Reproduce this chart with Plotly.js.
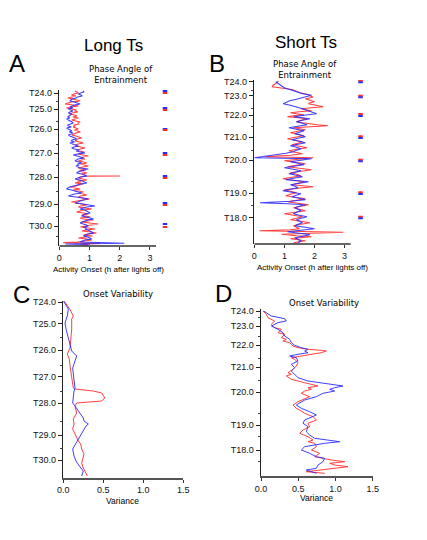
<!DOCTYPE html>
<html>
<head>
<meta charset="utf-8">
<script src="https://cdn.plot.ly/plotly-3.0.1.min.js"></script>
<style>html,body{margin:0;padding:0;background:#fff;}#chart{width:427px;height:540px;}</style>
</head>
<body>
<div id="chart"></div>
<script>
// ---------- Panel A: Long Ts, activity onset (h after lights off) ----------
const aRedDay   = [-2,-1,0,1,2,3,4,5,6,7,8,9,10,11,12,13,14,15,16,17,18,19,20,21,22,23,24,25,26,27,28,29,30,31,32,33,34,35,36,37,38,39,40,41,42,43,44,45,46,47,48,49,50,51,52,53,54,55,56,57,58,59,60,61,62,63,64,65,66,67,68,69,70,71,72,73,74,75,76,77,78,79,80,81,82,82.8,83,83.2,84,85,86,87,88,89,90,91,92,93,94,95,96,97,98,99,100,101,102,103,104,105,106,107,108,109,110,111,112,113,114,115,116,117,118,119,120,121,122,123,124,125,126,127,128,129,130,131,132,133,134,135,136,137,138,139,140,141,142,143,144,145,146,147,148,149,149.6,150.4,151,152];
const aRedOnset = [0.52,0.60,0.63,0.48,0.40,0.55,0.35,0.28,0.45,0.60,0.69,0.40,0.25,0.19,0.45,0.63,0.38,0.24,0.40,0.57,0.50,0.62,0.42,0.35,0.50,0.58,0.45,0.63,0.52,0.41,0.55,0.69,0.60,0.66,0.48,0.52,0.46,0.58,0.63,0.50,0.60,0.70,0.55,0.45,0.41,0.55,0.68,0.74,0.60,0.55,0.52,0.68,0.80,0.62,0.55,0.57,0.72,0.85,0.70,0.60,0.69,0.82,0.75,0.62,0.78,0.96,0.80,0.70,0.85,0.75,0.63,0.80,0.91,0.70,0.85,0.96,0.78,0.63,0.72,0.88,0.65,0.80,0.91,0.75,0.85,0.85,2.01,0.88,0.70,0.63,0.78,0.91,0.60,0.72,0.52,0.80,0.65,0.55,0.35,0.48,0.69,0.46,0.60,0.80,0.66,0.75,0.91,0.70,0.63,0.80,1.00,0.78,0.63,0.40,0.57,0.75,0.91,0.70,0.63,0.85,1.07,0.80,0.70,0.57,0.80,0.96,0.75,0.85,1.02,0.69,0.80,1.13,0.90,0.74,1.00,1.29,1.05,0.85,0.70,0.96,1.18,0.90,0.75,1.05,1.23,0.95,0.80,1.10,0.85,0.63,0.90,1.07,0.85,0.60,0.13,1.35,0.70,0.95];
const aBlueDay   = [-2,-1,0,1,2,3,4,5,6,7,8,9,10,11,12,13,14,15,16,17,18,19,20,21,22,23,24,25,26,27,28,29,30,31,32,33,34,35,36,37,38,39,40,41,42,43,44,45,46,47,48,49,50,51,52,53,54,55,56,57,58,59,60,61,62,63,64,65,66,67,68,69,70,71,72,73,74,75,76,77,78,79,80,81,82,83,84,85,86,87,88,89,90,91,92,93,94,95,96,97,98,99,100,101,102,103,104,105,106,107,108,109,110,111,112,113,114,115,116,117,118,119,120,121,122,123,124,125,126,127,128,129,130,131,132,133,134,135,136,137,138,139,140,141,142,143,144,145,146,147,148,149,150.3,151,152];
const aBlueOnset = [0.78,0.82,0.70,0.63,0.72,0.76,0.60,0.55,0.42,0.38,0.35,0.50,0.62,0.69,0.50,0.40,0.35,0.45,0.30,0.38,0.45,0.35,0.30,0.41,0.36,0.30,0.28,0.35,0.24,0.30,0.38,0.42,0.46,0.35,0.28,0.30,0.40,0.24,0.30,0.35,0.42,0.33,0.45,0.38,0.30,0.35,0.46,0.52,0.57,0.42,0.40,0.50,0.35,0.45,0.55,0.63,0.48,0.41,0.50,0.65,0.55,0.70,0.85,0.60,0.46,0.60,0.72,0.80,0.62,0.55,0.52,0.65,0.74,0.60,0.66,0.55,0.62,0.69,0.96,0.80,0.70,0.62,0.57,0.75,0.82,0.91,0.70,0.60,0.52,0.68,0.75,0.85,0.91,0.72,0.58,0.46,0.35,0.28,0.24,0.40,0.55,0.65,0.74,0.50,0.38,0.30,0.55,0.75,0.96,0.80,0.70,0.60,0.52,0.80,1.00,1.18,0.90,0.80,0.69,0.85,0.90,0.95,1.02,0.85,0.80,0.74,0.90,1.05,1.13,0.95,0.80,0.75,0.69,0.85,0.90,0.96,0.80,0.90,0.85,0.95,1.00,1.08,1.13,0.95,0.88,0.80,0.95,1.00,1.07,0.85,0.75,0.69,2.15,0.20,1.00];
const aTickDay  = [0,16,36,60,84,111,133];
const aTickText = ['T24.0','T25.0','T26.0','T27.0','T28.0','T29.0','T30.0'];
const aMinorDay = [8,28,51,72,98,123,143];
const aMeanRedDay  = [0,17,37,62,85,112,134];
const aMeanBlueDay = [-2,15,36,60,83,110,131];
const aMeanX = [3.5,3.5,3.5,3.5,3.5,3.5,3.5];

// ---------- Panel B: Short Ts, activity onset ----------
const bRedDay   = [-0.7,1,2,3.5,5,6.5,8,9.5,11,12.5,14,15.5,17,18.5,20,21,22,23.5,25,26,27,28,29,30,31,32,33,34,35,36,37,38.5,40,41,42,43,44,45,46,47,48,49.5,51,52.5,54,55.5,57,58.5,60,61.5,63,64.5,66,67.5,69,70.5,72,73.5,75,76,77.5,79,80.5,82,83.5,85,86.5,88,89.5,91,92.5,94,95.5,97,98.5,100,101.5,103,104,105,106.5,108,109.5,111,112.5,114,115.5,117,118.5,120,121.5,123,124.5,126,127.5,129,130.5,132,133.5,135,136.5,138,139.5,141,142.5,144,145.5,147,148,149,150.5,151.5,152.5,154,155,156,157,158,159,160,161];
const bRedOnset = [0.80,0.75,0.70,0.62,0.60,0.95,1.29,1.40,1.52,1.75,1.85,1.95,1.70,1.85,2.00,1.85,1.80,2.05,2.29,1.90,1.55,1.70,1.90,1.50,1.20,1.40,1.65,1.30,1.10,1.45,1.75,1.55,1.40,1.60,1.80,2.10,2.44,1.80,1.30,1.50,1.70,1.45,1.20,1.45,1.65,1.35,1.10,1.35,1.60,1.45,1.25,1.50,1.75,1.40,1.15,1.35,1.60,1.20,0.35,1.96,1.40,1.00,1.35,1.70,1.40,1.10,1.50,1.90,1.55,1.20,1.40,1.55,1.25,0.95,1.30,1.65,1.45,1.25,1.60,1.96,1.45,1.00,1.20,1.40,1.20,1.05,1.35,1.70,1.40,1.10,1.45,1.80,1.55,1.30,1.50,1.70,1.35,1.00,1.30,1.60,1.40,1.20,1.55,1.85,1.55,1.30,1.40,1.50,1.20,0.17,2.96,1.40,0.90,1.40,1.90,1.50,1.20,1.45,1.70,1.50,1.30];
const bBlueDay   = [0,1.5,3,4.5,6,7.5,9,10.5,12,13.6,15,16,17.5,19,20.5,22,23.5,25,27,29,30.5,32,33.5,35,36,37,38.5,40,41.5,43,44.5,46,47.5,49,50.5,52,53.5,55,56.5,58,59.5,61,62.5,64,65.5,67,68.5,70,71.5,73,74.5,76,77,78.5,80,81.5,83,84.5,86,87.5,89,90.5,92,93.5,95,96.5,98,99,100,101.5,103,104.5,106,107.5,109,110.5,112,113.5,115,116.5,118,119.5,121,122,123,124.5,126,127.5,129,130.5,132,133.5,135,136.5,138,139.5,141,142.5,144,145.5,147,148.5,150,151.5,153,154.5,156,157.5,159,160,161];
const bBlueOnset = [0.72,0.78,0.85,0.92,1.00,1.15,1.29,1.45,1.60,1.90,1.75,1.63,1.40,1.18,1.05,0.96,1.20,1.41,1.60,1.79,1.95,2.07,1.65,1.30,1.60,1.85,1.60,1.40,1.60,1.75,1.45,1.15,1.40,1.65,1.50,1.35,1.55,1.70,1.45,1.25,1.50,1.70,1.45,1.20,1.40,1.55,1.40,1.30,1.05,0.70,0.30,0.00,1.90,1.50,1.20,1.45,1.65,1.30,1.00,1.30,1.55,1.35,1.15,1.40,1.60,1.30,1.05,1.45,1.80,1.50,1.20,1.35,1.45,1.20,0.95,1.25,1.55,1.40,1.25,1.50,1.70,1.20,0.19,1.10,1.70,1.50,1.35,1.45,1.55,1.40,1.30,1.50,1.75,1.55,1.40,1.50,1.60,1.45,1.35,1.70,2.00,1.55,1.10,1.50,1.85,1.60,1.35,1.45,1.55,1.50,1.45];
const bTickDay  = [0,14,33.3,55.6,78.6,111.6,136];
const bTickText = ['T24.0','T23.0','T22.0','T21.0','T20.0','T19.0','T18.0'];
const bMinorDay = [8.6,27,45,68.6,100,123.3];
const bMeanRedDay  = [-1,14,32.3,54.6,78,110.6,135];
const bMeanBlueDay = [0.6,15.6,34.3,56.3,79.6,112.3,136.6];
const bMeanX = [3.53,3.53,3.53,3.53,3.53,3.53,3.53];

// ---------- Panel C: Long Ts, onset variance ----------
const cRedDay = [-1,7,14,17,27,37,46,52,57,64,71,81,86,87,89,91,96,99,101,104,111,117,122,127,132,139,142,147,152,157,161,166,169,174];
const cRedVar = [0.01,0.08,0.125,0.105,0.105,0.096,0.084,0.05,0.075,0.084,0.096,0.117,0.125,0.146,0.375,0.48,0.52,0.48,0.167,0.146,0.167,0.125,0.134,0.117,0.146,0.188,0.217,0.23,0.259,0.242,0.23,0.25,0.271,0.30];
const cBlueDay = [-1,7,14,21,27,36,44,49,54,61,66,72,81,86,89,97,101,104,109,116,119,122,124,131,136,142,147,154,159,164,169,174];
const cBlueVar = [0.0,0.063,0.05,0.021,0.034,0.063,0.096,0.105,0.167,0.134,0.117,0.125,0.134,0.146,0.134,0.125,0.117,0.146,0.188,0.25,0.259,0.313,0.284,0.23,0.20,0.146,0.117,0.134,0.159,0.20,0.25,0.23];
const cTickDay  = [0,21.7,48,74.7,101,133,158];
const cTickText = ['T24.0','T25.0','T26.0','T27.0','T28.0','T29.0','T30.0'];
const cMinorDay = [11,35.3,63,89.7,119.7,146.3];

// ---------- Panel D: Short Ts, onset variance ----------
const dRedDay = [0,3.3,6.7,10,11.7,13.3,16.7,18.3,21.7,23.3,26.7,28.3,30,31.7,33.3,35,36.7,38.3,39.3,40,41.7,43.3,45,46.7,48.3,51.7,55,58.3,61.7,63.3,65,68.3,71.7,75,76.7,78.3,80,82.3,85.7,90.7,94,97.3,99,102.3,105.7,109,112.3,115.7,119,122.3,125.7,129,130.7,132.3,135.7,139,142.3,145.7,149,150.7,152.3,154,155.7,157.3,159,160.7,162.3];
const dRedVar = [0.027,0.072,0.094,0.183,0.161,0.139,0.183,0.273,0.228,0.318,0.273,0.34,0.295,0.385,0.407,0.43,0.497,0.631,0.81,0.877,0.81,0.676,0.541,0.407,0.452,0.497,0.474,0.43,0.362,0.407,0.34,0.407,0.586,0.765,0.631,0.676,0.586,0.541,0.653,0.497,0.43,0.474,0.519,0.586,0.698,0.743,0.631,0.653,0.564,0.519,0.631,0.698,0.631,0.72,0.743,0.676,0.787,0.72,0.944,1.123,0.922,0.989,1.168,0.989,0.743,0.608,0.855];
const dBlueDay = [0,5,7.7,10,11.7,15,18.3,21.7,25,28.3,31.7,34.3,36.7,38.3,40,41.7,43.3,45,46.7,50,53.3,56.7,60,63.3,66.7,70,72.3,74.3,75,76.7,78.3,80,82.3,85.7,89,94,97.3,100.7,104,109,112.3,115.7,120.7,124,127.3,130.7,132.3,135.7,139,142.3,145.7,147.3,150.7,154,157.3,159,160.7,162.3];
const dBlueVar = [0.036,0.139,0.318,0.34,0.228,0.139,0.228,0.295,0.318,0.385,0.407,0.452,0.541,0.631,0.586,0.631,0.497,0.385,0.474,0.497,0.407,0.452,0.407,0.452,0.497,0.631,0.855,1.056,1.10,0.989,0.922,0.989,0.832,0.743,0.586,0.474,0.541,0.653,0.743,0.586,0.564,0.631,0.608,0.653,0.72,1.056,0.855,0.586,0.541,0.653,0.743,0.855,0.832,0.765,0.743,0.608,0.676,0.743];
const dTickDay  = [0,15,34.3,56.3,81,114.3,139];
const dTickText = ['T24.0','T23.0','T22.0','T21.0','T20.0','T19.0','T18.0'];
const dMinorDay = [6.7,25.7,47.3,69,102.3,125.7,150.7];

// ---------- styling ----------
const RED = '#ff2b2b', BLUE = '#2b2bff';
const W = 427, H = 540;
const px = v => v / W, py = v => 1 - v / H;
const tickFont = {family: 'Liberation Sans, Arial, sans-serif', size: 9, color: '#111'};

function line(x, y, color, xa, ya, w) {
  return {x: x, y: y, xaxis: xa, yaxis: ya, type: 'scatter', mode: 'lines',
          line: {color: color, width: w}, opacity: 0.9, showlegend: false, hoverinfo: 'skip'};
}
function dash(x, y, color, xa, ya) {
  return {x: x, y: y, xaxis: xa, yaxis: ya, type: 'scatter', mode: 'markers',
          marker: {symbol: 'line-ew', size: 3.2, color: color, line: {color: color, width: 2}},
          showlegend: false, hoverinfo: 'skip'};
}

const data = [
  line(aRedOnset, aRedDay, RED, 'x', 'y', 1.1),
  line(aBlueOnset, aBlueDay, BLUE, 'x', 'y', 1.1),
  dash(aMeanX, aMeanBlueDay, BLUE, 'x', 'y'),
  dash(aMeanX, aMeanRedDay, RED, 'x', 'y'),
  line(bRedOnset, bRedDay, RED, 'x2', 'y2', 1.1),
  line(bBlueOnset, bBlueDay, BLUE, 'x2', 'y2', 1.1),
  dash(bMeanX, bMeanRedDay, RED, 'x2', 'y2'),
  dash(bMeanX, bMeanBlueDay, BLUE, 'x2', 'y2'),
  line(cRedVar, cRedDay, RED, 'x3', 'y3', 1),
  line(cBlueVar, cBlueDay, BLUE, 'x3', 'y3', 1),
  line(dRedVar, dRedDay, RED, 'x4', 'y4', 1),
  line(dBlueVar, dBlueDay, BLUE, 'x4', 'y4', 1)
];

function xax(dom, range, tickvals, ticktext, showline) {
  return {domain: dom, range: range, tickmode: 'array', tickvals: tickvals, ticktext: ticktext,
          ticks: 'outside', ticklen: 3, tickwidth: 1, tickcolor: '#333',
          showline: showline, linecolor: '#555', linewidth: 1.8,
          showgrid: false, zeroline: false, tickfont: tickFont, fixedrange: true};
}
function yax(dom, range, tickvals, ticktext, minor, anchor) {
  return {domain: dom, range: range, tickmode: 'array', tickvals: tickvals, ticktext: ticktext,
          ticks: 'outside', ticklen: 4, tickwidth: 1, tickcolor: '#222',
          minor: {tickvals: minor, ticks: 'outside', ticklen: 2, tickcolor: '#444', tickwidth: 1},
          showline: true, linecolor: '#222', linewidth: 1.5, anchor: anchor,
          showgrid: false, zeroline: false, tickfont: tickFont, fixedrange: true};
}

const ann = (text, x, y, size, family) => ({
  text: text, xref: 'paper', yref: 'paper', x: px(x), y: py(y), xanchor: 'center', yanchor: 'middle',
  showarrow: false, font: {family: family, size: size, color: '#000'}});

const SANS = 'Liberation Sans, Arial, sans-serif';
const LUCIDA = 'DejaVu Sans, sans-serif';

const layout = {
  width: W, height: H, margin: {l: 0, r: 0, t: 0, b: 0},
  paper_bgcolor: '#fff', plot_bgcolor: 'rgba(0,0,0,0)', showlegend: false,
  xaxis:  xax([px(59.3), px(59.3 + 3.6 * 30.2)], [0, 3.6], [0, 1, 2, 3], ['0', '1', '2', '3'], false),
  yaxis:  yax([py(246), py(90)], [153, -3], aTickDay, aTickText, aMinorDay, 'x'),
  xaxis2: Object.assign(xax([px(254.3), px(254.3 + 3.7 * 30.1)], [0, 3.7], [0, 1, 2, 3], ['0', '1', '2', '3'], false), {anchor: 'y2'}),
  yaxis2: yax([py(244), py(80)], [162.3, -1.7], bTickDay, bTickText, bMinorDay, 'x2'),
  xaxis3: Object.assign(xax([px(63.3), px(183.3)], [0, 1.5], [0, 0.5, 1, 1.5], ['0.0', '0.5', '1.0', '1.5'], true), {anchor: 'y3'}),
  yaxis3: yax([py(477.7), py(300.5)], [175.7, -1.5], cTickDay, cTickText, cMinorDay, 'x3'),
  xaxis4: Object.assign(xax([px(261), px(372.75)], [0, 1.5], [0, 0.5, 1, 1.5], ['0.0', '0.5', '1.0', '1.5'], true), {anchor: 'y4'}),
  yaxis4: yax([py(476), py(309)], [165, -2], dTickDay, dTickText, dMinorDay, 'x4'),
  shapes: [
    {type: 'line', xref: 'x', yref: 'y domain', x0: 0, x1: 3.2, y0: 0, y1: 0, line: {color: '#333', width: 1.6}},
    {type: 'line', xref: 'x2', yref: 'y2 domain', x0: 0, x1: 3.2, y0: 0, y1: 0, line: {color: '#333', width: 1.6}}
  ],
  annotations: [
    ann('Long Ts', 113, 45, 17, SANS),
    ann('Short Ts', 306, 43, 17, SANS),
    ann('A', 17, 63, 24, SANS),
    ann('B', 217, 63, 24, SANS),
    ann('C', 21, 294, 24, SANS),
    ann('D', 223, 293, 24, SANS),
    ann('Phase Angle of<br>Entrainment', 121, 75, 8.5, LUCIDA),
    ann('Phase Angle of<br>Entrainment', 305, 69, 8.5, LUCIDA),
    ann('Onset Variability', 118, 294, 8.5, LUCIDA),
    ann('Onset Variability', 324, 303, 8.5, LUCIDA),
    ann('Activity Onset (h after lights off)', 108, 269, 8, SANS),
    ann('Activity Onset (h after lights off)', 312, 268, 8, SANS),
    ann('Variance', 122, 501, 8.5, SANS),
    ann('Variance', 316, 498, 8.5, SANS)
  ]
};

Plotly.newPlot('chart', data, layout, {displayModeBar: false, staticPlot: true});
</script>
</body>
</html>
